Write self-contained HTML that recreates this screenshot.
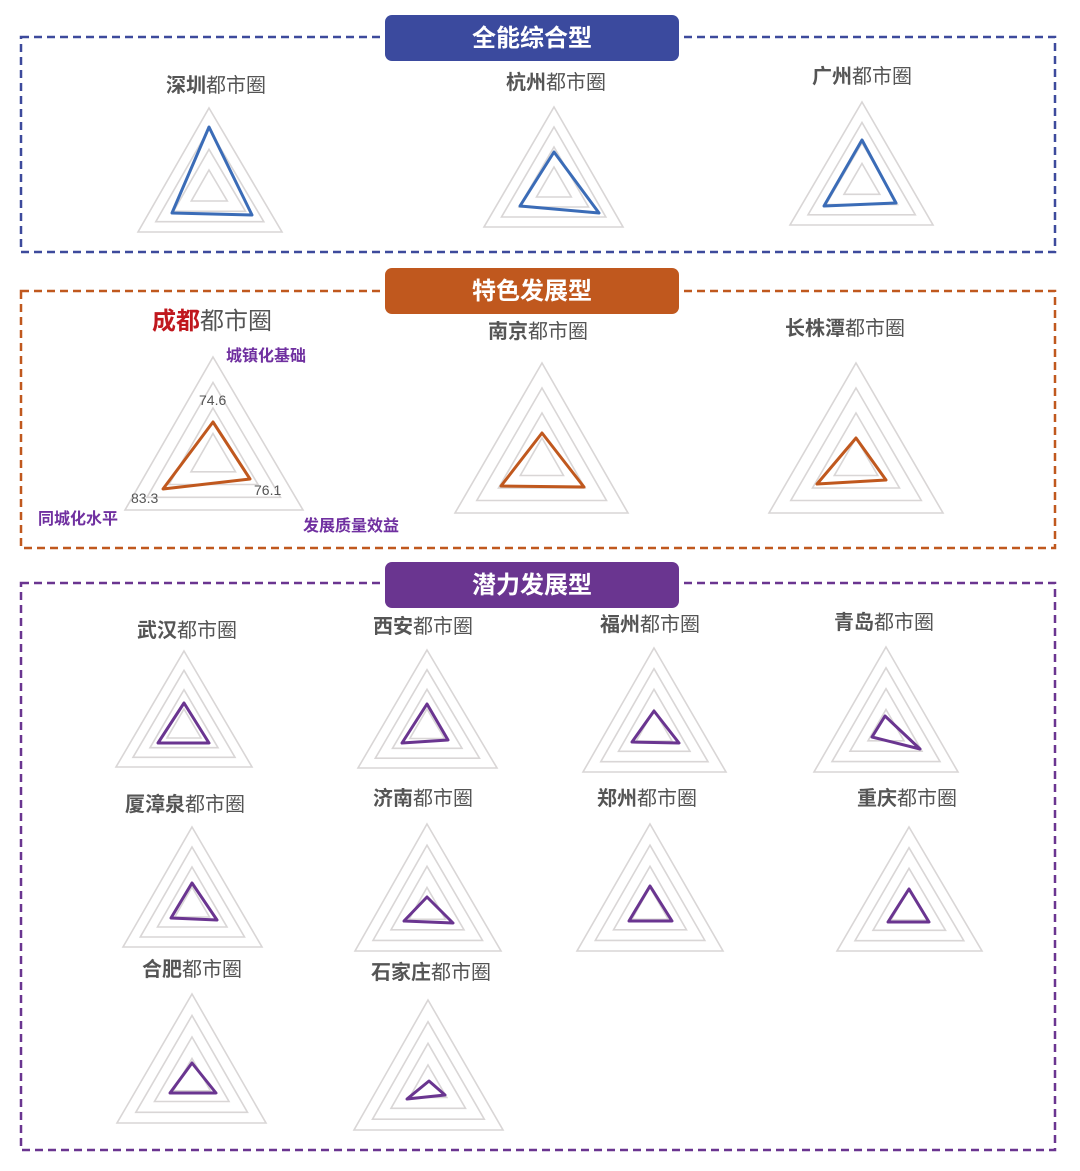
<!DOCTYPE html>
<html><head><meta charset="utf-8">
<style>
html,body{margin:0;padding:0;background:#fff;}
body{width:1080px;height:1171px;overflow:hidden;position:relative;font-family:"Liberation Sans","Noto Sans CJK SC",sans-serif;}
svg{position:absolute;left:0;top:0;}
</style></head>
<body>
<svg id="s" width="1080" height="1171" viewBox="0 0 1080 1171" xmlns="http://www.w3.org/2000/svg" font-family="'Liberation Sans','Noto Sans CJK SC',sans-serif">
<rect x="21" y="37" width="1034" height="215" fill="none" stroke="#3d4a9c" stroke-width="2.5" stroke-dasharray="8,5"/>
<rect x="21" y="291" width="1034" height="257" fill="none" stroke="#c0581e" stroke-width="2.5" stroke-dasharray="8,5"/>
<rect x="21" y="583" width="1034" height="567" fill="none" stroke="#6a3590" stroke-width="2.5" stroke-dasharray="8,5"/>
<rect x="385" y="15" width="294" height="46" rx="7" fill="#3b4a9e"/>
<text x="532" y="46" text-anchor="middle" font-size="24" font-weight="bold" fill="#fff">全能综合型</text>
<rect x="385" y="268" width="294" height="46" rx="7" fill="#c0581e"/>
<text x="532" y="299" text-anchor="middle" font-size="24" font-weight="bold" fill="#fff">特色发展型</text>
<rect x="385" y="562" width="294" height="46" rx="7" fill="#6a3590"/>
<text x="532" y="593" text-anchor="middle" font-size="24" font-weight="bold" fill="#fff">潜力发展型</text>
<g id="charts"></g>
<text x="212" y="329" text-anchor="middle" font-size="24"><tspan font-weight="bold" fill="#c0181e">成都</tspan><tspan fill="#555">都市圈</tspan></text>
<g font-size="16" font-weight="bold" fill="#7030a0">
<text x="226" y="361">城镇化基础</text>
<text x="38" y="524">同城化水平</text>
<text x="303" y="531">发展质量效益</text>
</g>
<g font-size="14" fill="#555">
<text x="199" y="405">74.6</text>
<text x="254" y="495">76.1</text>
<text x="131" y="503">83.3</text>
</g>
</svg>
<script>
var C=[
["深圳",216,85,209,108,232,138,282,[[209,127],[252,215],[172,213]],"#3b6cb7"],
["杭州",556,82,554,107,227,484,623,[[554,152],[599,213],[520,206]],"#3b6cb7"],
["广州",862,76,862,102,225,790,933,[[862,140],[896,203],[824,206]],"#3b6cb7"],
["",0,0,213,357,510,125,303,[[213,422],[250,479],[163,489]],"#c0581e"],
["南京",538,331,542,363,513,455,628,[[542,433],[584,487],[501,486]],"#c0581e"],
["长株潭",845,328,856,363,513,769,943,[[856,438],[886,480],[817,484]],"#c0581e"],
["武汉",187,630,184,651,767,116,252,[[184,703],[209,743],[158,743]],"#6a3590"],
["西安",423,626,427,650,768,358,497,[[427,704],[448,740],[402,743]],"#6a3590"],
["福州",650,624,654,648,772,583,726,[[654,711],[679,743],[632,742]],"#6a3590"],
["青岛",884,622,886,647,772,814,958,[[885,716],[920,749],[872,737]],"#6a3590"],
["厦漳泉",185,804,192,827,947,123,262,[[192,883],[217,920],[171,918]],"#6a3590"],
["济南",423,798,427,824,951,355,501,[[427,897],[453,923],[404,921]],"#6a3590"],
["郑州",647,798,650,824,951,577,723,[[650,886],[672,921],[629,921]],"#6a3590"],
["重庆",907,798,909,827,951,837,982,[[909,889],[929,922],[888,922]],"#6a3590"],
["合肥",192,969,192,994,1123,117,266,[[192,1063],[216,1093],[170,1093]],"#6a3590"],
["石家庄",431,972,428,1000,1130,354,503,[[429,1081],[445,1095],[407,1099]],"#6a3590"]
];
var h="";
C.forEach(function(c){
 var ax=c[3],ay=c[4],by=c[5],lx=c[6],rx=c[7];
 var cy=ay+(by-ay)*2/3,cx=ax;
 [1,0.75,0.5,0.25].forEach(function(f){
  function p(x,y){return (cx+(x-cx)*f).toFixed(1)+","+(cy+(y-cy)*f).toFixed(1);}
  h+='<polygon points="'+p(ax,ay)+' '+p(rx,by)+' '+p(lx,by)+'" fill="none" stroke="#d9d6d6" stroke-width="1.6"/>';
 });
 h+='<polygon points="'+c[8].map(function(q){return q.join(",");}).join(" ")+'" fill="none" stroke="'+c[9]+'" stroke-width="3" stroke-linejoin="round"/>';
 if(c[0]){
  h+='<text x="'+c[1]+'" y="'+(c[2]+7)+'" text-anchor="middle" font-size="20" fill="#555"><tspan font-weight="bold">'+c[0]+'</tspan>都市圈</text>';
 }
});
document.getElementById("charts").innerHTML=h;
</script>
</body></html>
